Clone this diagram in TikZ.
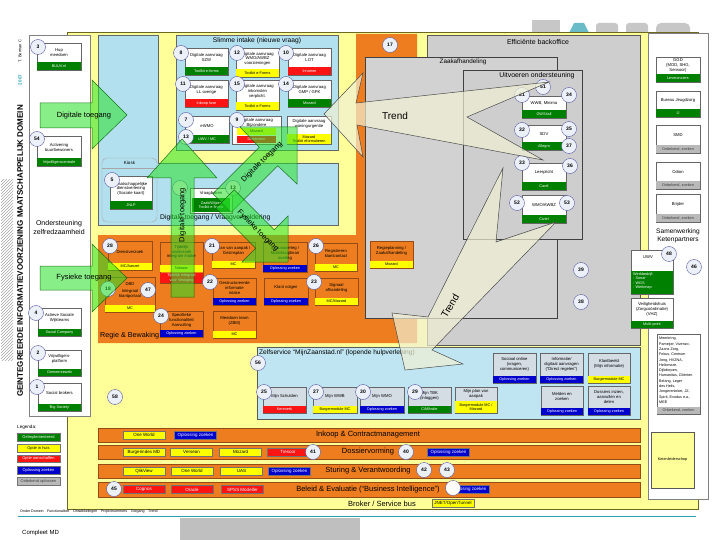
\documentclass[tikz,border=0pt]{standalone}
\usepackage{fontspec}
\setmainfont{Liberation Sans}
\usetikzlibrary{patterns}
\definecolor{bgy}{RGB}{255,255,153}
\definecolor{lblue}{RGB}{178,224,238}
\definecolor{org}{RGB}{237,125,30}
\definecolor{orgd}{RGB}{150,75,20}
\definecolor{pgray}{RGB}{206,206,206}
\definecolor{dgreen}{RGB}{0,128,0}
\definecolor{lred}{RGB}{250,20,20}
\definecolor{lbl}{RGB}{0,0,205}
\definecolor{lgry}{RGB}{185,185,185}
\definecolor{lyel}{RGB}{255,255,0}
\definecolor{circf}{RGB}{236,240,248}
\definecolor{zsb}{RGB}{212,220,228}
\definecolor{agreen}{RGB}{40,225,40}
\definecolor{trendc}{RGB}{240,240,212}
\definecolor{tealc}{RGB}{40,160,175}
\newcommand\myfs[2]{\fontsize{#1}{#2}\selectfont}
\tikzset{
 bx/.style={draw=gray!80!black, line width=0.4pt, fill=white},
 obx/.style={draw=orgd, line width=0.4pt, fill=org},
 zbx/.style={draw=gray!80!black, line width=0.4pt, fill=zsb},
 btxt/.style={font=\myfs{4.2}{4.8}, align=center, inner sep=0pt, text=black},
 ltxt/.style={font=\myfs{3.8}{4.3}, align=center, inner sep=0pt},
 lg/.style={fill=dgreen, text=white},
 ly/.style={fill=lyel, text=black},
 lr/.style={fill=lred, text=white},
 lb/.style={fill=lbl, text=white},
 lgr/.style={fill=lgry, text=black!75},
 circ/.style={circle, draw=gray!70!blue, fill=circf, line width=0.4pt, minimum size=15pt, inner sep=0pt, font=\myfs{5}{5}\bfseries},
 garrow/.style={fill=agreen, fill opacity=0.55, draw=green!35!black, draw opacity=0.8, line width=0.5pt},
 tarrow/.style={fill=trendc, fill opacity=0.7, draw=black!70, line width=0.5pt},
 hdr/.style={inner sep=0pt},
 barst/.style={fill=org, draw=orgd, line width=0.8pt},
 blab/.style={minimum width=42pt, minimum height=8pt, inner sep=0pt, font=\myfs{4.5}{5}, draw=black!55, line width=0.3pt},
 leg/.style={minimum width=43pt, minimum height=7.5pt, inner sep=0pt, font=\myfs{4}{4.5}, draw=black!55, line width=0.3pt},
}
% #1 box style, #2 name, #3 x1, #4 y1, #5 x2, #6 y2, #7 text, #8 label style, #9 label text
\newcommand\ibox[9]{%
 \draw[#1] (#3,#4) rectangle (#5,#6);
 \path[#8] (#3,#6-7.5) rectangle (#5,#6);
 \node[ltxt,#8,fill=none] at ({(#3+#5)/2},{#6-3.75}) {#9};
 \node[btxt] (#2) at ({(#3+#5)/2},{(#4+#6-7.5)/2}) {#7};
}
\begin{document}
\begin{tikzpicture}[x=1pt,y=-1pt]
\useasboundingbox (0,0) rectangle (720,540);
\fill[white] (0,0) rectangle (720,540);

% logo remnants top right
\fill[black!22] (532,20) rectangle (560,35);
\fill[tealc!70] (568,35) -- (574,23) -- (584,23) -- (590,35) -- cycle;
\fill[black!22, rounded corners=3pt] (596,23) rectangle (618,38);
\fill[black!22, rounded corners=3pt] (626,23) rectangle (648,38);
\fill[black!22, rounded corners=5pt] (656,23) rectangle (690,38);

% hatch strip
\fill[pattern=north east lines, pattern color=gray!70] (1,180) rectangle (13,360);

% backgrounds
\draw[draw=olive!70!black, fill=bgy, line width=0.6pt] (67,32) rectangle (698,509);
\draw[draw=gray, fill=white, line width=0.5pt] (29,35) rectangle (90,416);
\draw[draw=gray, fill=white, line width=0.5pt] (648,33) rectangle (708,499);
\draw[draw=gray!80!black, fill=lblue] (98,35) -- (158,35) -- (158,163) -- (338,163) -- (338,225) -- (98,225) -- cycle;
\draw[draw=gray!80!black, fill=lblue] (176,35) rectangle (338,150);
\fill[org] (98,235) -- (356,235) -- (356,34) -- (417,34) -- (417,343) -- (98,343) -- cycle;
\draw[draw=gray!70!black, fill=pgray] (427,35) rectangle (640,345);
\draw[draw=gray!50!black, fill=pgray!92!white] (365,57) rectangle (557,318);
\draw[draw=gray!50!black, fill=pgray] (463,70) rectangle (582,239);
\draw[draw=gray!70!black, fill=lblue!85!white, line width=0.6pt] (257,347) rectangle (640,419);
\draw[draw=gray!70, rounded corners=5pt] (102,158) rectangle (157,222);
\draw[draw=gray!70] (102,168) -- (157,168);

% titles on the left
\node[rotate=90, font=\myfs{8}{9}\bfseries, inner sep=0pt] (title) at (20,251) {GEINTEGREERDE INFORMATIEVOORZIENING MAATSCHAPPELIJK DOMEIN};
\node[rotate=90, font=\myfs{4}{4}, inner sep=0pt] (auth) at (20,51) {T. Berman C};
\node[rotate=90, font=\myfs{4.5}{4.5}\bfseries, text=tealc, inner sep=0pt] (yr) at (20,80) {2007};

% headers
\node[hdr, font=\myfs{6.3}{7}] (hzaak) at (463,62) {Zaakafhandeling};
\node[hdr, font=\myfs{7}{8}] (heff) at (538,42) {Efficiënte backoffice};
\node[hdr, font=\myfs{6.9}{8}] (huit) at (537,76) {Uitvoeren ondersteuning};
\node[hdr, font=\myfs{6.7}{8}] (hslim) at (257,41) {Slimme intake (nieuwe vraag)};
\node[hdr, font=\myfs{6.8}{8}, anchor=west] (hdig) at (160,218) {Digitale toegang / Vraagverheldering};
\node[hdr, font=\myfs{7.2}{8}, anchor=west] (hregie) at (100,336) {Regie \& Bewaking};
\node[hdr, font=\myfs{7}{9}, align=center] (hond) at (59,227) {Ondersteuning\\zelfredzaamheid};
\node[hdr, font=\myfs{6.6}{8.5}, align=center] (hsam) at (678,236) {Samenwerking\\Ketenpartners};
\node[hdr, font=\myfs{4.5}{5}] (hkiosk) at (129.5,163) {Kiosk};
\node[hdr, font=\myfs{6.6}{8}, anchor=west] (hzelf) at (259,353) {Zelfservice ``MijnZaanstad.nl'' (lopende hulpverlening)};

% left panel boxes
\ibox{bx}{b3}{37}{43}{81}{70}{Hup\\meedoen}{lg}{BUUV.nl}
\ibox{bx}{b54}{37}{136}{81}{166}{Activering\\buurtbewoners}{lg}{Vrijwilligerscentrale}
\ibox{bx}{b4}{38}{308}{81}{336}{Actieve Sociale\\Wijkteams}{lg}{Social Company}
\ibox{bx}{b2}{38}{350}{81}{376}{Vrijwilligers-\\platform}{lg}{Gemeenteweb}
\ibox{bx}{b1}{38}{383}{81}{411}{Social brokers}{lg}{`Big Society'}

% slimme intake boxes
\ibox{bx}{b8}{185}{48}{228}{75}{Digitale aanvraag\\SZW}{lg}{Toolkit e-forms}
\ibox{bx}{b12}{236}{48}{279}{77}{Digitale aanvraag\\WMO/AWBZ\\voorzieningen}{ly}{Toolkit e-Forms}
\ibox{bx}{b10}{288}{48}{331}{75}{Digitale aanvraag\\LOT}{lr}{Innamer}
\ibox{bx}{b11}{185}{80}{228}{107}{Digitale aanvraag\\LL overige}{lr}{Inkoop fase}
\ibox{bx}{b15}{236}{80}{279}{110}{Digitale aanvraag\\inkomsten\\verplicht.}{ly}{Toolkit e-Forms}
\ibox{bx}{b14}{288}{80}{331}{107}{Digitale aanvraag\\GMP / GPK}{lg}{Mozard}
\ibox{bx}{b7}{185}{116}{229}{143}{eWMO}{lg}{UWV / MC}
\draw[bx] (232,116) rectangle (281,144);
\node[btxt] (b9) at (256.5,123) {Digitale aanvraag\\Bijzondere};
\fill[ly] (237,128) rectangle (276,135);
\node[ltxt] (b9y) at (256.5,131.5) {Mozard};
\fill[lr] (237,136) rectangle (276,143);
\node[ltxt, text=white] (b9r) at (256.5,139.5) {Dimension};
\draw[bx] (287,116) rectangle (331,144);
\node[btxt] (bwon) at (309,124) {Digitale aanvraag\\woningurgentie};
\fill[ly] (287,134) rectangle (331,144);
\node[ltxt] (bwony) at (309,139) {Mozard\\Toolkit eformulieren};

% kiosk / vraagbaken
\ibox{bx}{b5}{110}{176}{152}{209}{Maatschappelijke\\dienstverlening\\(Sociale kaart)}{lg}{JNLP}
\draw[bx] (190,188) rectangle (232,213);
\node[btxt] (bvraag) at (211,193) {Vraagbaken};
\fill[lg] (192,198) rectangle (230,212);
\node[ltxt, text=white] (bvraagl) at (211,205) {Zaak/Wijzer\\Toolkit e-forms};

% orange region boxes
\ibox{obx}{b28}{108}{241}{152}{270}{Dienstverzoek}{ly}{MC/Aanzet}
\draw[obx] (160,242) rectangle (203,283);
\node[btxt] (btij) at (181.5,252) {Tijdelijk\\onderzoek\\integrale intake};
\fill[ly] (160,265) rectangle (203,272);
\node[ltxt] (btijy) at (181.5,268.5) {Nieuwe};
\fill[lr] (160,273) rectangle (203,283);
\node[ltxt, text=white] (btijr) at (181.5,278) {Tijdelijk integraal\\voor Vestiging};
\ibox{obx}{b21}{212}{242}{255}{268}{Plan van aanpak /\\Gezinsplan}{ly}{MC}
\ibox{obx}{bcas}{263}{242}{307}{272}{Casusoverleg /\\Multidisciplinair\\overleg}{lb}{Oplossing zoeken}
\ibox{obx}{b26}{315}{243}{357}{271}{Registreren\\klantcontact}{ly}{MC}
\ibox{obx}{bdbd}{105}{277}{155}{312}{DBD\\[2pt]Integraal\\klantportaal}{ly}{MC}
\ibox{obx}{b22}{213}{278}{256}{305}{Gestructureerde\\informatie\\intake}{lb}{Oplossing zoeken}
\ibox{obx}{bklant}{264}{278}{308}{305}{Klant volgen}{lb}{Oplossing zoeken}
\ibox{obx}{b23}{315}{278}{358}{305}{Signaal\\afhandeling}{ly}{MC/Mozard}
\ibox{obx}{b24}{160}{311}{203}{337}{Specifieke\\functionaliteit\\Aanvulling}{lb}{Oplossing zoeken}
\ibox{obx}{bzbm}{213}{311}{256}{338}{Meedoen team\\(ZBM)}{ly}{MC}
\ibox{obx}{bregie}{370}{241}{413}{268}{Regieplanning /\\Zaakafhandeling}{ly}{Mozard}

% uitvoeren ondersteuning
\ibox{bx}{b31}{522}{96}{566}{118}{WWB, Minima}{lg}{GWS4all}
\ibox{bx}{b32}{522}{125}{566}{150}{SDV}{lg}{Allegro}
\ibox{bx}{b33}{522}{163}{566}{190}{Leerplicht}{lg}{Carel}
\ibox{bx}{b52}{522}{195}{566}{223}{WMO/AWBZ}{lg}{Civiel}

% zelfservice
\ibox{zbx}{b25}{263}{387}{306}{413}{Mijn Schulden}{lr}{Kenmerk}
\ibox{zbx}{b27}{313}{387}{357}{413}{Mijn WWB}{ly}{Burgermodule MC}
\ibox{zbx}{b30}{360}{387}{404}{413}{Mijn WMO}{lb}{Oplossing zoeken}
\ibox{zbx}{b29}{408}{387}{451}{413}{Mijn TBK\\(inloggen)}{lg}{CiM/Indie}
\draw[zbx] (455,387) rectangle (497,413);
\node[btxt] (bplan) at (476,394) {Mijn plan van\\aanpak};
\fill[ly] (455,401) rectangle (497,413);
\node[ltxt] (bplany) at (476,407) {Burgermodule MC /\\Mozard};
\ibox{zbx}{bsoc}{493}{353}{536}{383}{Sociaal online\\(vragen,\\communiceren)}{lb}{Oplossing zoeken}
\ibox{zbx}{binf}{540}{353}{583}{383}{Informatie/\\digitaal aanvragen\\(``Direct regelen'')}{lb}{Oplossing zoeken}
\ibox{zbx}{bkb}{588}{353}{630}{383}{Klantbeeld\\(Mijn informatie)}{ly}{Burgermodule MC}
\ibox{zbx}{bmeld}{541}{386}{583}{415}{Melden en\\zoeken}{lb}{Oplossing zoeken}
\ibox{zbx}{bdos}{588}{386}{630}{415}{Dossiers inzien,\\aanvullen en\\delen}{lb}{Oplossing zoeken}

% right panel
\ibox{bx}{bggd}{656}{57}{700}{82}{GGD\\(MOD, SHG,\\Sensoor)}{lg}{Leveranciers}
\ibox{bx}{bbj}{656}{91}{700}{117}{Bureau Jeugdzorg}{lg}{IJ}
\ibox{bx}{bsmd}{656}{125}{700}{153}{SMD}{lgr}{Onbekend, zoeken}
\ibox{bx}{bodion}{656}{162}{700}{189}{Odion}{lgr}{Onbekend, zoeken}
\ibox{bx}{bbrij}{656}{194}{700}{222}{Brijder}{lgr}{Onbekend, zoeken}
\draw[bx] (631,250) rectangle (673,294);
\node[btxt] (buwv) at (648,257) {UWV};
\fill[lg] (631,271) rectangle (673,294);
\node[ltxt, text=white, align=left, anchor=north west] (buwvl) at (633,272.5) {Werkbedrijf:\\- Sonar\\- WGS\\- Werkmap};
\ibox{bx}{bvh}{631}{298}{673}{328}{Veiligheidshuis\\(Zorgco\"ordinatie)\\(VHZ)}{lg}{Multi-point}
\draw[bx] (657,334) rectangle (700,414);
\fill[lgr] (657,407) rectangle (700,414);
\node[ltxt, text=black!75] (blistl) at (678.5,410.5) {Onbekend, zoeken};
\node[ltxt, align=left, anchor=north west, font=\myfs{3.7}{5.3}] (blist) at (659,337) {Meerkring,\\Pameijer, Vivenzo,\\Zaans Zorg,\\Fokus, Centrum\\Jong, HVZNA,\\Heliomare,\\Dijkdorpen,\\Humanitas, Cli\"enten\\Belang, Leger\\des Heils,\\Jongerenloket, JZ,\\Spirit, Exodus e.a.,\\MEE};
\draw[draw=gray!70!black, fill=bgy] (651,432) rectangle (694,488);
\node[ltxt] (bketen) at (672.5,460) {Ketenleiderschap};

% bars
\draw[barst] (98,428) rectangle (640,442);
\draw[barst] (98,445) rectangle (640,459);
\draw[barst] (98,464) rectangle (640,478);
\draw[barst] (98,482) rectangle (640,497);
\node[font=\myfs{7.5}{8}, inner sep=0pt] (bar1) at (368,435) {Inkoop \& Contractmanagement};
\node[font=\myfs{7.5}{8}, inner sep=0pt] (bar2) at (368,452) {Dossiervorming};
\node[font=\myfs{7.5}{8}, inner sep=0pt] (bar3) at (368,471) {Sturing \& Verantwoording};
\node[font=\myfs{7.5}{8}, inner sep=0pt] (bar4) at (368,489.5) {Beleid \& Evaluatie (``Business Intelligence'')};
\node[font=\myfs{7.5}{8}, inner sep=0pt] (bar5) at (382,503.5) {Broker / Service bus};
\node[blab, ly] (l11) at (144,435) {One World};
\node[blab, lb] (l12) at (195.5,435) {Oplossing zoeken};
\node[blab, ly] (l21) at (144,452) {Burgerindex MD};
\node[blab, ly] (l22) at (191.5,452) {Verseon};
\node[blab, ly] (l23) at (240.5,452) {Mozard};
\node[blab, lr] (l24) at (288,452) {Tresoor};
\node[blab, lb] (l25) at (448.5,452) {Oplossing zoeken};
\node[blab, ly] (l31) at (144,471) {QlikView};
\node[blab, ly] (l32) at (192,471) {One World};
\node[blab, ly] (l33) at (241.5,471) {UAS};
\node[blab, lb] (l34) at (289.5,471) {Oplossing zoeken};
\node[blab, lr] (l41) at (144,489.5) {Cognos};
\node[blab, lr] (l42) at (192,489.5) {Oracle};
\node[blab, lr] (l43) at (242.5,489.5) {SPSS Modeller};
\node[blab, lb] (l44) at (468.5,489.5) {Oplossing zoeken};
\node[blab, ly] (l51) at (453,503) {JNET/OpenTunnel};

% legend
\node[font=\myfs{4.6}{5}, anchor=west, inner sep=0pt] (legh) at (17,427) {Legenda:};
\node[leg, lg] (leg1) at (38.5,437) {Ge\"implementeerd};
\node[leg, ly] (leg2) at (38.5,448) {Optie in huis};
\node[leg, lr] (leg3) at (38.5,458.5) {Optie aanschaffen};
\node[leg, lb] (leg4) at (38.5,470) {Oplossing zoeken};
\node[leg, lgr] (leg5) at (38.5,481) {Onbekend oplossen};

% circles
\node[circ] (c3) at (38,47) {3};
\node[circ] (c54) at (37,139) {54};
\node[circ] (c4) at (36,313) {4};
\node[circ] (c2) at (38,353) {2};
\node[circ] (c1) at (37,387) {1};
\node[circ] (c58) at (115,397) {58};
\node[circ] (c8) at (181,53) {8};
\node[circ] (c12) at (237,53) {12};
\node[circ] (c10) at (286,53) {10};
\node[circ] (c11) at (183,84) {11};
\node[circ] (c15) at (237,84) {15};
\node[circ] (c14) at (286,84) {14};
\node[circ] (c7) at (186,120) {7};
\node[circ] (c9) at (237,120) {9};
\node[circ] (c13a) at (186,137) {13};
\node[circ] (c5) at (112,180) {5};
\node[circ] (c19) at (180,188) {};
\node[circ] (c13) at (233,188) {13};
\node[circ] (c28) at (110,246) {28};
\node[circ] (c21) at (212,246) {21};
\node[circ] (c26) at (316,246) {26};
\node[circ] (c18) at (108,289) {18};
\node[circ] (c47) at (148,290) {47};
\node[circ] (c22) at (210,282) {22};
\node[circ] (c23) at (314,282) {23};
\node[circ] (c24) at (161,316) {24};
\node[circ] (c17) at (390,45) {17};
\node[circ] (c51) at (543,87) {51};
\node[circ] (c31) at (522,95) {31};
\node[circ] (c34) at (569,95) {34};
\node[circ] (c32) at (522,130) {32};
\node[circ] (c35) at (569,129) {35};
\node[circ] (c37) at (569,146) {37};
\node[circ] (c33) at (522,163) {33};
\node[circ] (c36) at (570,166) {36};
\node[circ] (c52) at (517,203) {52};
\node[circ] (c53) at (567,203) {53};
\node[circ] (c39) at (581,270) {39};
\node[circ] (c38) at (581,302) {38};
\node[circ] (c48) at (669,254) {48};
\node[circ] (c46) at (694,267) {46};
\node[circ] (c56) at (258,363) {56};
\node[circ] (c25) at (264,392) {25};
\node[circ] (c27) at (316,392) {27};
\node[circ] (c30) at (363,392) {30};
\node[circ] (c29) at (415,392) {29};
\node[circ] (c41) at (313,452) {41};
\node[circ] (c40) at (406,452) {40};
\node[circ] (c42) at (424,470) {42};
\node[circ] (c43) at (447,470) {43};
\node[circ] (c45) at (114,489) {45};
\node[circ, fill=white] (c44) at (453,488) {};

% green arrows
\draw[garrow] (40,103) -- (92,103) -- (92,80) -- (127,115) -- (92,149) -- (92,128) -- (40,128) -- cycle;
\node[font=\myfs{7.5}{8}, inner sep=0pt] (adt) at (84,115.5) {Digitale toegang};
\draw[garrow] (40,266) -- (92,266) -- (92,244) -- (127,278) -- (92,312) -- (92,290) -- (40,290) -- cycle;
\node[font=\myfs{7.5}{8}, inner sep=0pt] (aft) at (84,278) {Fysieke toegang};
\draw[garrow] (171,297) -- (171,178) -- (147,178) -- (182,139) -- (217,178) -- (194,178) -- (194,297) -- cycle;
\node[font=\myfs{7.5}{8}, inner sep=0pt, rotate=90] (avt) at (182.5,215) {Digitale toegang};
\draw[garrow] (297,127) -- (297,184) -- (277.7,165.7) -- (231.2,212.2) -- (212.8,193.8) -- (259.3,147.3) -- (240,127) -- cycle;
\node[font=\myfs{7.5}{8}, inner sep=0pt, rotate=45] (adt2) at (262,162) {Digitale toegang};
\draw[garrow] (288,262) -- (242,262) -- (255.8,248.2) -- (215.8,208.2) -- (234.2,189.8) -- (274.2,229.8) -- (288,216) -- cycle;
\node[font=\myfs{7.5}{8}, inner sep=0pt, rotate=-45] (aft2) at (258,231) {Fysieke toegang};

% trend arrows
\draw[tarrow] (324,114) -- (363,73) -- (356,103) -- (549,82) -- (467,117) -- (543,160) -- (357,125) -- (363,157) -- cycle;
\node[font=\myfs{10}{11}, inner sep=0pt] (tr1) at (395,116) {Trend};
\draw[tarrow] (503,168) -- (428,317) -- (392,313) -- (405,370) -- (463,364) -- (432,350) -- (556,222) -- (496,242) -- cycle;
\node[font=\myfs{10}{11}, inner sep=0pt, rotate=60] (tr2) at (450,306) {Trend};

% bottom
\draw[tealc, line width=0.8pt] (18,516) -- (696,516);
\node[anchor=west, font=\myfs{3.6}{4}, inner sep=0pt] (links) at (20,512) {Onder Domein\quad Functionaliteit\quad Ontwikkelingen\quad Projectnummers\quad Toegang\quad Trend};
\fill[black!25] (180,518) rectangle (360,540);
\node[anchor=west, font=\myfs{6}{7}, inner sep=0pt] (cmd) at (22,533) {Compleet MD};
\end{tikzpicture}
\end{document}
